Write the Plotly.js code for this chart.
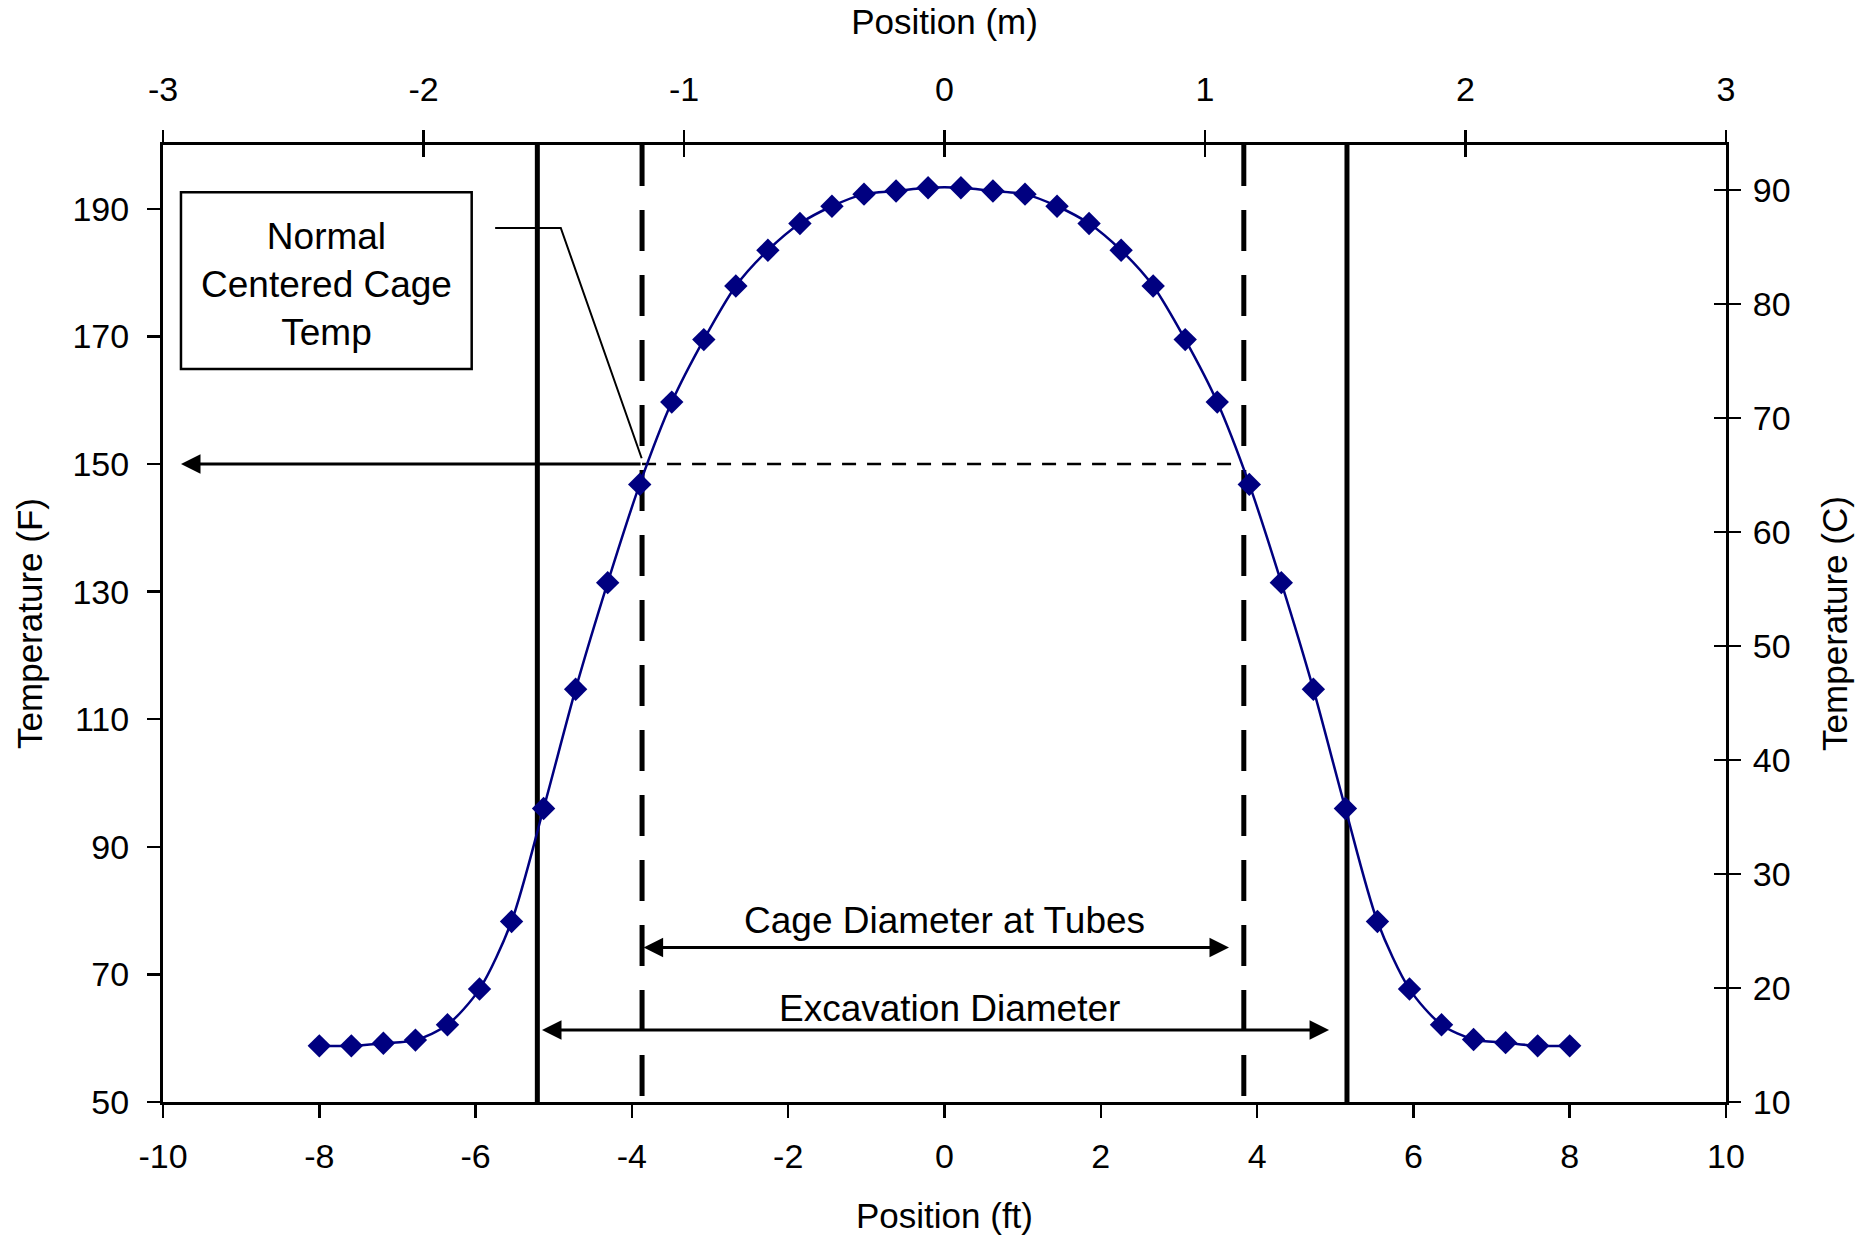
<!DOCTYPE html>
<html>
<head>
<meta charset="utf-8">
<script src="https://cdn.plot.ly/plotly-3.0.1.min.js"></script>
<style>html,body{margin:0;padding:0;background:#fff;}#chart{width:1866px;height:1235px;}</style>
</head>
<body>
<div id="chart"></div>
<script>
// ---- data ----
const posFt = [-8.00,-7.59,-7.18,-6.77,-6.36,-5.95,-5.54,-5.13,-4.72,-4.31,-3.90,-3.49,-3.08,-2.67,-2.26,-1.85,-1.44,-1.03,-0.62,-0.21,
               0.21,0.62,1.03,1.44,1.85,2.26,2.67,3.08,3.49,3.90,4.31,4.72,5.13,5.54,5.95,6.36,6.77,7.18,7.59,8.00];
const tempF = [58.8,58.8,59.2,59.7,62.1,67.7,78.3,96.0,114.7,131.4,146.8,159.7,169.5,177.9,183.5,187.7,190.4,192.3,192.8,193.3,
               193.3,192.8,192.3,190.4,187.7,183.5,177.9,169.5,159.7,146.8,131.4,114.7,96.0,78.3,67.7,62.1,59.8,59.3,58.8,58.8];
const xTicksFt = [-10,-8,-6,-4,-2,0,2,4,6,8,10];
const xTickTextFt = ["-10","-8","-6","-4","-2","0","2","4","6","8","10"];
const xTicksM = [-3,-2,-1,0,1,2,3];
const xTickTextM = ["-3","-2","-1","0","1","2","3"];
const yTicksF = [50,70,90,110,130,150,170,190];
const yTicksC = [10,20,30,40,50,60,70,80,90];
const excavationFt = [-5.21, 5.15];
const cageFt = [-3.87, 3.83];
const normalTempF = 150;
const labelCage = "Cage Diameter at Tubes";
const labelExc = "Excavation Diameter";
const labelNormal = "Normal<br>Centered Cage<br>Temp";

const FONT = "Liberation Sans, Arial, sans-serif";
const tickFont = {family: FONT, size: 34, color: "#000"};
const titleFont = {family: FONT, size: 35, color: "#000"};
const annFont = {family: FONT, size: 37, color: "#000"};

const traces = [
  {x: posFt, y: tempF, xaxis: "x", yaxis: "y", type: "scatter", mode: "lines+markers",
   line: {color: "#000080", width: 2.5, shape: "spline", smoothing: 0.8},
   marker: {symbol: "diamond", size: 18, color: "#000080"}, showlegend: false, hoverinfo: "x+y"},
  {x: [null], y: [null], xaxis: "x2", yaxis: "y2", type: "scatter", mode: "markers", showlegend: false, hoverinfo: "skip"},
  {x: [null], y: [null], xaxis: "x3", yaxis: "y3", type: "scatter", mode: "markers", showlegend: false, hoverinfo: "skip"}
];

const common = {showgrid: false, zeroline: false, linecolor: "#000", tickcolor: "#000", tickfont: tickFont, automargin: false};

const shapes = [];
excavationFt.forEach(x => shapes.push({type: "line", xref: "x", yref: "y", x0: x, x1: x, y0: 200, y1: 50,
  line: {color: "#000", width: 5}, layer: "below"}));
cageFt.forEach(x => shapes.push({type: "line", xref: "x", yref: "y", x0: x, x1: x, y0: 200, y1: 50,
  line: {color: "#000", width: 5, dash: "41px,24px"}, layer: "below"}));
// dashed line at normal temperature between cage lines
shapes.push({type: "line", xref: "x", yref: "y", x0: cageFt[0], x1: 3.75, y0: normalTempF, y1: normalTempF,
  line: {color: "#000", width: 2.5, dash: "14px,11px"}, layer: "below"});
// label box
shapes.push({type: "rect", xref: "x", yref: "y", x0: -9.77, x1: -6.05, y0: 164.9, y1: 192.6,
  line: {color: "#000", width: 2.5}, fillcolor: "rgba(0,0,0,0)"});
// leader line
shapes.push({type: "path", xref: "x", yref: "y", path: "M -5.75 187 L -4.91 187 L -3.875 150.9",
  line: {color: "#000", width: 2}});

const arrowBase = {xref: "x", yref: "y", axref: "x", ayref: "y", text: "", showarrow: true,
  arrowcolor: "#000", arrowwidth: 3, arrowhead: 2, arrowsize: 1.3, standoff: 0, startstandoff: 0,
  startarrowhead: 2, startarrowsize: 1.3};

const annotations = [
  Object.assign({}, arrowBase, {x: -3.85, y: 74.2, ax: 3.66, ay: 74.2, arrowside: "end+start"}),
  Object.assign({}, arrowBase, {x: -5.15, y: 61.3, ax: 4.94, ay: 61.3, arrowside: "end+start"}),
  Object.assign({}, arrowBase, {x: -9.77, y: normalTempF, ax: cageFt[0], ay: normalTempF, arrowside: "end"}),
  {xref: "x", yref: "y", x: 0.0, y: 78.5, text: labelCage, showarrow: false, font: annFont, xanchor: "center", yanchor: "middle"},
  {xref: "x", yref: "y", x: 0.06, y: 64.7, text: labelExc, showarrow: false, font: annFont, xanchor: "center", yanchor: "middle"},
  {xref: "x", yref: "y", x: -7.91, y: 178.2, text: labelNormal, showarrow: false, font: annFont, xanchor: "center", yanchor: "middle", align: "center"}
];

const layout = {
  width: 1866, height: 1235,
  margin: {l: 163, r: 140, t: 145, b: 133, pad: 0},
  paper_bgcolor: "#fff", plot_bgcolor: "#fff",
  font: {family: FONT, color: "#000"},
  showlegend: false,
  xaxis: Object.assign({}, common, {range: [-10, 10], tickmode: "array", tickvals: xTicksFt, ticktext: xTickTextFt,
    ticks: "outside", ticklen: 13, tickwidth: 2.5, showline: true, linewidth: 3, anchor: "y", side: "bottom",
    ticklabelstandoff: 9, title: {text: "Position (ft)", font: titleFont, standoff: 41}}),
  xaxis2: Object.assign({}, common, {range: [-3, 3], tickmode: "array", tickvals: xTicksM, ticktext: xTickTextM,
    ticks: "outside", ticklen: 12, tickwidth: 2.5, showline: true, linewidth: 3, anchor: "y", side: "top", overlaying: "x",
    ticklabelstandoff: 15, title: {text: "Position (m)", font: titleFont, standoff: 26}}),
  xaxis3: Object.assign({}, common, {range: [-3, 3], tickmode: "array", tickvals: xTicksM,
    ticks: "inside", ticklen: 12, tickwidth: 2.5, showline: false, showticklabels: false, anchor: "y", side: "top", overlaying: "x"}),
  yaxis: Object.assign({}, common, {range: [50, 200], tickmode: "array", tickvals: yTicksF,
    ticks: "outside", ticklen: 13, tickwidth: 2.5, showline: true, linewidth: 3, anchor: "x", side: "left",
    ticklabelstandoff: 11, title: {text: "Temperature (F)", font: titleFont, standoff: 20}}),
  yaxis2: Object.assign({}, common, {range: [10, 93.95], tickmode: "array", tickvals: yTicksC,
    ticks: "outside", ticklen: 12, tickwidth: 2.5, showline: true, linewidth: 3, anchor: "x", side: "right", overlaying: "y",
    ticklabelstandoff: 5, title: {text: "Temperature (C)", font: titleFont, standoff: 33}}),
  yaxis3: Object.assign({}, common, {range: [10, 93.95], tickmode: "array", tickvals: yTicksC,
    ticks: "inside", ticklen: 12, tickwidth: 2.5, showline: false, showticklabels: false, anchor: "x", side: "right", overlaying: "y"}),
  shapes: shapes,
  annotations: annotations
};

Plotly.newPlot("chart", traces, layout, {staticPlot: true, displayModeBar: false});
</script>
</body>
</html>
